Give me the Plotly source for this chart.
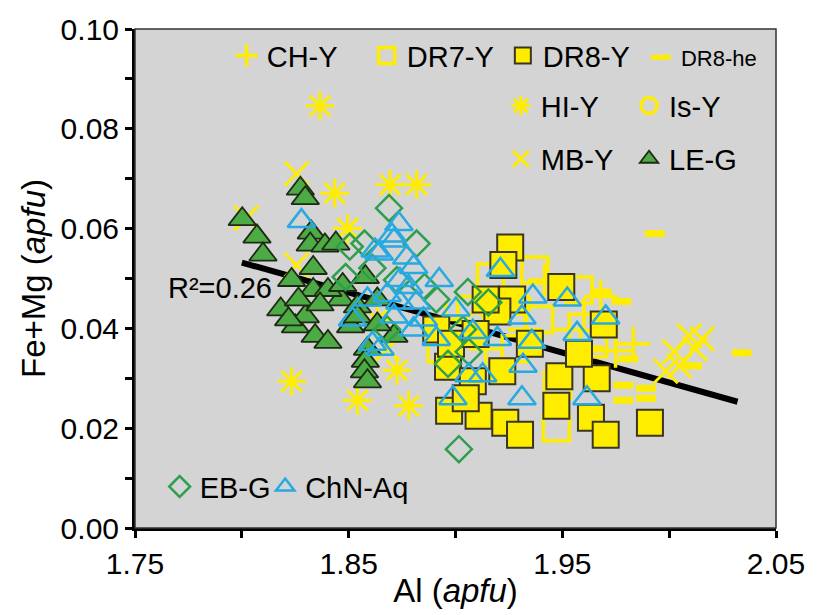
import plotly.graph_objects as go

# ---------------- data (Al apfu, Fe+Mg apfu) ----------------
le_g_x = [1.8002, 1.8071, 1.8099, 1.8274, 1.8297, 1.8325, 1.8320, 1.8389, 1.8440, 1.8233,
          1.8334, 1.8334, 1.8578, 1.8463, 1.8541, 1.8251, 1.8297, 1.8343, 1.8403, 1.8509,
          1.8541, 1.8588, 1.8578, 1.8574, 1.8588, 1.8712, 1.8182, 1.8265, 1.8403, 1.8219,
          1.8472, 1.8634, 1.8366, 1.8634]
le_g_y = [0.0619, 0.0584, 0.0548, 0.0680, 0.0661, 0.0592, 0.0568, 0.0566, 0.0570, 0.0497,
          0.0521, 0.0477, 0.0503, 0.0458, 0.0444, 0.0404, 0.0424, 0.0385, 0.0373, 0.0404,
          0.0424, 0.0359, 0.0335, 0.0314, 0.0294, 0.0385, 0.0438, 0.0458, 0.0477, 0.0418,
          0.0487, 0.0408, 0.0448, 0.0458]

chn_aq_x = [1.8279, 1.8624, 1.8703, 1.8735, 1.8712, 1.8643, 1.8772, 1.8804, 1.8740, 1.8924,
            1.8781, 1.8740, 1.8818, 1.8680, 1.8588, 1.8518, 1.8647, 1.8611, 1.8804, 1.8850,
            1.8712, 1.8988, 1.9062, 1.9210, 1.9362, 1.9523, 1.9311, 1.9703, 1.9569, 1.9081,
            1.9196, 1.9357, 1.9316, 1.9311, 1.9615, 1.9127, 1.8910, 1.9002]
chn_aq_y = [0.0615, 0.0556, 0.0586, 0.0609, 0.0576, 0.0550, 0.0542, 0.0523, 0.0497, 0.0497,
            0.0483, 0.0452, 0.0452, 0.0467, 0.0458, 0.0418, 0.0359, 0.0369, 0.0398, 0.0418,
            0.0424, 0.0260, 0.0306, 0.0517, 0.0464, 0.0458, 0.0422, 0.0422, 0.0389, 0.0393,
            0.0379, 0.0373, 0.0325, 0.0260, 0.0260, 0.0306, 0.0379, 0.0438]

eb_g_x = [1.8689, 1.8505, 1.8574, 1.8818, 1.8486, 1.8855, 1.9058, 1.9154, 1.9035, 1.9062,
          1.8965, 1.9016, 1.8680, 1.8910, 1.8726, 1.8611]
eb_g_y = [0.0641, 0.0564, 0.0570, 0.0570, 0.0503, 0.0483, 0.0473, 0.0452, 0.0398, 0.0353,
          0.0329, 0.0158, 0.0398, 0.0458, 0.0497, 0.0521]

dr8_y_x = [1.9256, 1.9224, 1.9495, 1.9265, 1.9196, 1.9694, 1.8965, 1.9219, 1.9486, 1.9661,
           1.9081, 1.8970, 1.9108, 1.9233, 1.9472, 1.9634, 1.9703, 1.9910, 1.9302, 1.8910,
           1.8979, 1.9141, 1.9094, 1.9348, 1.9578, 1.9048]
dr8_y_y = [0.0562, 0.0527, 0.0483, 0.0458, 0.0434, 0.0408, 0.0323, 0.0314, 0.0304, 0.0300,
           0.0294, 0.0235, 0.0225, 0.0211, 0.0245, 0.0221, 0.0187, 0.0211, 0.0187, 0.0398,
           0.0369, 0.0458, 0.0389, 0.0369, 0.0349, 0.0260]

dr7_y_x = [1.9371, 1.9164, 1.9477, 1.9472, 1.9578, 1.9071, 1.9279, 1.9647, 1.9394, 1.8933]
dr7_y_y = [0.0517, 0.0503, 0.0286, 0.0201, 0.0477, 0.0438, 0.0359, 0.0369, 0.0418, 0.0359]

ch_y_x = [1.9680, 1.9749, 1.9417, 1.9532, 1.9325, 1.9601, 1.9832, 1.8956, 1.9141]
ch_y_y = [0.0464, 0.0355, 0.0497, 0.0398, 0.0398, 0.0428, 0.0369, 0.0418, 0.0359]

dr8_he_x = [1.9933, 1.9684, 1.9776, 2.0339, 2.0108, 1.9786, 1.9892, 1.9786, 1.9892, 1.9809,
            1.9717, 1.9647]
dr8_he_y = [0.0590, 0.0473, 0.0454, 0.0351, 0.0325, 0.0286, 0.0280, 0.0256, 0.0260, 0.0339,
            0.0398, 0.0359]

hi_y_x = [1.8366, 1.8435, 1.8694, 1.8818, 1.8233, 1.8541, 1.8726, 1.8781, 1.8495, 1.8634]
hi_y_y = [0.0846, 0.0671, 0.0688, 0.0688, 0.0294, 0.0256, 0.0316, 0.0245, 0.0600, 0.0418]

mb_y_x = [1.8256, 1.8021, 1.8256, 2.0094, 2.0025, 1.9984, 2.0122, 2.0048, 2.0154, 1.8680]
mb_y_y = [0.0710, 0.0621, 0.0527, 0.0385, 0.0353, 0.0314, 0.0359, 0.0325, 0.0379, 0.0359]

is_y_x = [1.9100, 1.9300]
is_y_y = [0.0410, 0.0450]

fit_x = [1.800, 2.032]
fit_y = [0.0532, 0.0253]

x_ticks = [1.75, 1.80, 1.85, 1.90, 1.95, 2.00, 2.05]
x_labels = ["1.75", "", "1.85", "", "1.95", "", "2.05"]
y_ticks = [0.00, 0.01, 0.02, 0.03, 0.04, 0.05, 0.06, 0.07, 0.08, 0.09, 0.10]
y_labels = ["0.00", "", "0.02", "", "0.04", "", "0.06", "", "0.08", "", "0.10"]

# ---------------- styling ----------------
YEL = "#ffed00"
GRN_FILL = "#4dab45"
GRN_LINE = "#2e9e4f"
BLUE = "#27a9e1"
DARK = "#3a3520"
FONT = "Liberation Sans, Arial, sans-serif"

fig = go.Figure()

fig.add_trace(go.Scatter(x=fit_x, y=fit_y, mode="lines", showlegend=False,
                         line=dict(color="black", width=6)))

def add(name, xs, ys, marker, legend):
    fig.add_trace(go.Scatter(x=xs, y=ys, mode="markers", name=name, marker=marker,
                             legend=legend, showlegend=True))

add("HI-Y", hi_y_x, hi_y_y,
    dict(symbol="asterisk-open", size=24, color=YEL, line=dict(color=YEL, width=3)), "legend5")
add("MB-Y", mb_y_x, mb_y_y,
    dict(symbol="x-thin-open", size=24, color=YEL, line=dict(color=YEL, width=3)), "legend7")
add("CH-Y", ch_y_x, ch_y_y,
    dict(symbol="cross-thin-open", size=24, color=YEL, line=dict(color=YEL, width=3.5)), "legend")
add("DR8-he", dr8_he_x, dr8_he_y,
    dict(symbol="line-ew-open", size=14, color=YEL, line=dict(color=YEL, width=7)), "legend4")
add("DR7-Y", dr7_y_x, dr7_y_y,
    dict(symbol="square-open", size=26, color=YEL, line=dict(color=YEL, width=3.5)), "legend2")
add("Is-Y", is_y_x, is_y_y,
    dict(symbol="circle-open", size=22, color=YEL, line=dict(color=YEL, width=3.5)), "legend6")
add("LE-G", le_g_x, le_g_y,
    dict(symbol="triangle-up", size=24, color=GRN_FILL, line=dict(color="#1e2a14", width=1.8)), "legend8")
add("DR8-Y", dr8_y_x, dr8_y_y,
    dict(symbol="square", size=26, color=YEL, line=dict(color=DARK, width=2)), "legend3")
add("EB-G", eb_g_x, eb_g_y,
    dict(symbol="diamond-open", size=20, color=GRN_LINE, line=dict(color=GRN_LINE, width=2.5)), "legend9")
add("ChN-Aq", chn_aq_x, chn_aq_y,
    dict(symbol="triangle-up-open", size=24, color=BLUE, line=dict(color=BLUE, width=2.5)), "legend10")

# plot area in pixels: x 135..785, y 25..532
L, R, T, B = 135, 32, 25, 83
W, H = 817, 615
PW, PH = W - L - R, H - T - B

def px(x):
    return (x - L) / PW

def py(y):
    return (H - B - y) / PH

def leg(text_x, y, size=29):
    return dict(x=px(text_x - 40), y=py(y), xanchor="left", yanchor="middle",
                bgcolor="rgba(0,0,0,0)", borderwidth=0, itemsizing="trace",
                font=dict(family=FONT, size=size, color="black"), orientation="v",
                tracegroupgap=0)

fig.update_layout(
    width=W, height=H,
    margin=dict(l=L, r=R, t=T, b=B),
    paper_bgcolor="white",
    plot_bgcolor="#d4d4d4",
    font=dict(family=FONT, color="black"),
    legend=leg(268, 52),
    legend2=leg(410, 52),
    legend3=leg(548, 52),
    legend4=leg(688, 54, 22),
    legend5=leg(546, 103),
    legend6=leg(676, 103),
    legend7=leg(546, 157),
    legend8=leg(676, 157),
    legend9=leg(200, 490),
    legend10=leg(307, 490),
    xaxis=dict(range=[1.75, 2.05], tickvals=x_ticks, ticktext=x_labels,
               showgrid=False, zeroline=False, showline=True, linecolor="black", linewidth=3,
               ticks="outside", ticklen=7, tickwidth=2.5, tickcolor="black",
               tickfont=dict(size=30, family=FONT),
               title=dict(text="Al (<i>apfu</i>)", font=dict(size=33, family=FONT), standoff=0)),
    yaxis=dict(range=[0, 0.10], tickvals=y_ticks, ticktext=y_labels,
               showgrid=False, zeroline=False, showline=True, linecolor="black", linewidth=3,
               ticks="outside", ticklen=7, tickwidth=2.5, tickcolor="black",
               tickfont=dict(size=30, family=FONT),
               title=dict(text="Fe+Mg (<i>apfu</i>)", font=dict(size=33, family=FONT), standoff=6)),
    shapes=[dict(type="rect", xref="paper", yref="paper", x0=0, x1=1, y0=0, y1=1,
                 line=dict(color="#333333", width=1.5), layer="above")],
    annotations=[dict(x=1.7896, y=0.0481, xref="x", yref="y", text="R²=0.26",
                      showarrow=False, font=dict(size=29, family=FONT, color="black"))],
)

fig.write_html("out.html")
